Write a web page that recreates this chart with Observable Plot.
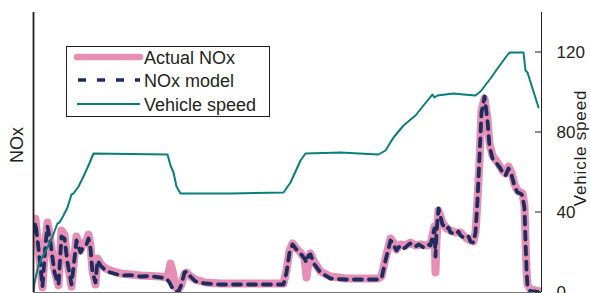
<!DOCTYPE html>
<html><head><meta charset="utf-8">
<script src="https://cdn.jsdelivr.net/npm/d3@7"></script>
<script src="https://cdn.jsdelivr.net/npm/@observablehq/plot@0.6"></script>
<style>body{margin:0;background:#fff} svg{display:block}</style>
</head><body><div id="chart"></div>
<script>
// time axis (s), vehicle speed (km/h), NOx (arbitrary units, left axis unlabeled)
const speedTime = [0,2,6,10,18,28,38,48,52,60,68,76,80,90,98,110,120,268,274,280,286,294,394,500,514,534,544,614,690,704,720,740,764,788,798,802,808,840,860,884,894,914,928,950,954,980,984,988,1010];
const speedValues = [0,4.5,9.5,13.5,18,22.5,28,34.5,35,38.5,42.5,49,49.5,53,57,63.5,69.5,69,63.5,60,53,49.5,49.5,50,55,66,69.5,70,69,71,77.5,83.5,88.5,96,99,97.5,98.5,99.5,99,98.5,100.5,107,112,119.5,120,120,111,110,92.5];

const actualTime = [0,4,10,18,24,28,34,42,50,56,62,68,76,82,86,94,100,106,110,114,118,124,128,134,144,154,174,214,254,266,270,274,278,284,290,296,302,306,314,324,344,374,500,506,512,518,526,534,542,546,550,554,562,574,594,624,690,696,704,714,720,726,734,744,754,764,774,784,794,798,802,804,806,810,818,826,834,844,854,864,874,880,884,888,892,896,902,908,912,918,928,938,944,950,956,962,968,978,982,984,986,988,994,1004,1014];
const actualNOx = [33.5,37,21,2.5,26,35,26,11,3.5,31,29,15,3,18.5,28,21,24.5,26,29,23.5,11,4,17,14.5,12,11,9.5,8.5,8,7.5,10,14.5,11,2.5,1.5,4,9.5,10,8,6.5,5,4.5,4.5,11,21,24.5,22,20,17,7.5,15,19.5,15,10.5,8,7,7,8,17,27,25,21.5,24,23.5,25,23.5,24,23.5,24,28.5,33,10,26,41,35,32,31,30,30,27.5,26,25.5,30,46,66,91,97,87,74.5,68.5,65,61,59.5,63,60,54,51,49.5,43.5,26,12,4,1.5,1,0.5];

const modelTime = [0,4,10,18,24,28,34,42,50,56,62,68,76,82,86,94,100,106,110,114,118,124,128,134,144,154,174,194,214,234,254,266,272,278,284,290,296,302,306,314,324,344,374,420,460,500,506,512,518,526,534,542,546,550,554,562,574,594,624,690,696,704,714,718,720,726,730,734,740,744,750,754,760,764,770,774,780,784,790,794,798,802,804,806,810,814,818,822,826,830,834,840,844,850,854,860,864,870,874,880,884,888,892,896,902,908,912,918,924,928,934,938,944,950,956,962,968,974,978,982,984,986,988,994,1004,1014];
const modelNOx = [30,35,22,3,24,33,25,10,4,28,27,15,4,17,26,20,23,24,27,22,10,5,16,13.5,11,10,8.5,8.7,8,8.2,7.5,7,5,2,0.5,0.5,4,10,10.5,8,5.5,4.5,4,4,4,4,10,20,24,21.5,19.5,17,15,18.5,19,14,10,7,6.5,6.5,7,16,26,25,24,21,22.5,23.5,22,22.5,24,24.5,23,23,24,23.5,22.5,23,24,23.5,28,32,18,30,42,38,34,33,31.5,32.5,30,29.5,29,30.5,28.5,27.5,27,28,25.5,25,30,46,68,90,98,86,73,67,65.5,64,62,60,58.5,62,59,53,50,49.5,48.5,42,26,12,3,0.5,0.5,0];

const speedTicks = [0,40,80,120];
const legendLabels = ["Actual NOx","NOx model","Vehicle speed"];
const colors = {actual:"#e68fb6", model:"#1c2d5e", speed:"#0a7f79", ink:"#231f20"};

const speed = speedTime.map((t,i)=>({t, v:speedValues[i]}));
const actual = actualTime.map((t,i)=>({t, v:actualNOx[i]}));
const model = modelTime.map((t,i)=>({t, v:modelNOx[i]}));

const font = "'Liberation Sans', Arial, Helvetica, sans-serif";
const chart = Plot.plot({
  width: 590, height: 293,
  marginLeft: 33, marginRight: 49, marginTop: 12, marginBottom: 1,
  x: {domain: [0, 1016], axis: null},
  y: {domain: [0, 140], axis: null},
  style: {fontFamily: font, background: "white", overflow: "visible"},
  marks: [
    Plot.ruleY([0], {stroke: "#777", strokeWidth: 1}),
    Plot.line(actual, {x:"t", y:"v", stroke: colors.actual, strokeWidth: 8, strokeLinecap:"round", strokeLinejoin:"round", clip: true}),
    Plot.line(model, {x:"t", y:"v", stroke: colors.model, strokeWidth: 3.8, strokeDasharray:"8,7", strokeLinejoin:"round", clip: true}),
    Plot.line(speed, {x:"t", y:"v", stroke: colors.speed, strokeWidth: 2, strokeLinejoin:"round", clip: true}),
    Plot.ruleX([0], {stroke: colors.ink, strokeWidth: 1.8}),
    Plot.ruleX([1016], {stroke: colors.ink, strokeWidth: 1}),
    Plot.axisY({anchor:"right", ticks: speedTicks, tickSize: 0, tickPadding: 15, fontSize: 17, fill: colors.ink, label: null})
  ]
});
document.getElementById("chart").appendChild(chart);

const svg = d3.select(chart);
const ys = chart.scale("y"), xs = chart.scale("x");
const xr = xs.apply(1016);
svg.append("g").selectAll("line").data(speedTicks).join("line")
  .attr("x1", xr - 6).attr("x2", xr).attr("y1", d => ys.apply(d)).attr("y2", d => ys.apply(d))
  .attr("stroke", colors.ink).attr("stroke-width", 1);

svg.append("text").attr("transform", `translate(23,145) rotate(-90)`).attr("text-anchor","middle")
  .attr("font-size", 18).attr("font-family", font).attr("fill", colors.ink).text("NOx");
svg.append("text").attr("transform", `translate(586,148) rotate(-90)`).attr("text-anchor","middle")
  .attr("font-size", 17).attr("letter-spacing", 0.8).attr("font-family", font).attr("fill", colors.ink).text("Vehicle speed");

const lg = svg.append("g");
lg.append("rect").attr("x", 66.5).attr("y", 46.5).attr("width", 203).attr("height", 70)
  .attr("fill", "white").attr("stroke", colors.ink).attr("stroke-width", 1);
const rowY = [57, 80, 104];
const styles = [
  {stroke: colors.actual, w: 6.5, dash: null, cap: "round"},
  {stroke: colors.model, w: 3.5, dash: "8,11", cap: "butt"},
  {stroke: colors.speed, w: 2, dash: null, cap: "butt"}
];
legendLabels.forEach((lab, i) => {
  const s = styles[i];
  const l = lg.append("line").attr("x1", i === 1 ? 78 : 77).attr("x2", 140).attr("y1", rowY[i]).attr("y2", rowY[i])
    .attr("stroke", s.stroke).attr("stroke-width", s.w).attr("stroke-linecap", s.cap);
  if (s.dash) l.attr("stroke-dasharray", s.dash);
  lg.append("text").attr("x", 144).attr("y", rowY[i] + 6.5).attr("text-anchor", "start")
    .attr("font-size", 18).attr("font-family", font).attr("fill", colors.ink).text(lab);
});
</script>
</body></html>
